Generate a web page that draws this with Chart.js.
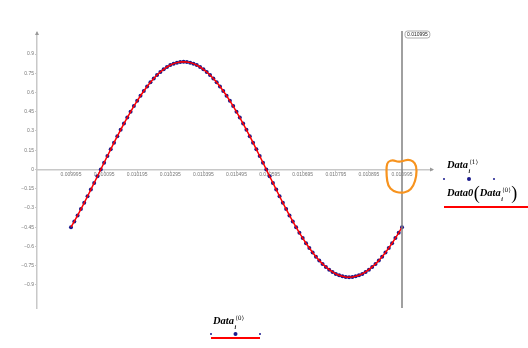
<!DOCTYPE html>
<html>
<head>
<meta charset="utf-8">
<script src="https://cdn.jsdelivr.net/npm/chart.js@4/dist/chart.umd.min.js"></script>
<style>
html,body{margin:0;padding:0;background:#fff;}
#wrap{position:relative;width:528px;height:348px;}
canvas{display:block;}
</style>
</head>
<body>
<div id="wrap"><canvas id="c" width="528" height="348"></canvas></div>
<script>
// Data0 sample points: x = Data<0>, y = Data<1>
const dataX = [
0.009995,0.010005,0.010015,0.010025,0.010035,0.010045,0.010055,0.010065,0.010075,0.010085,
0.010095,0.010105,0.010115,0.010125,0.010135,0.010145,0.010155,0.010165,0.010175,0.010185,
0.010195,0.010205,0.010215,0.010225,0.010235,0.010245,0.010255,0.010265,0.010275,0.010285,
0.010295,0.010305,0.010315,0.010325,0.010335,0.010345,0.010355,0.010365,0.010375,0.010385,
0.010395,0.010405,0.010415,0.010425,0.010435,0.010445,0.010455,0.010465,0.010475,0.010485,
0.010495,0.010505,0.010515,0.010525,0.010535,0.010545,0.010555,0.010565,0.010575,0.010585,
0.010595,0.010605,0.010615,0.010625,0.010635,0.010645,0.010655,0.010665,0.010675,0.010685,
0.010695,0.010705,0.010715,0.010725,0.010735,0.010745,0.010755,0.010765,0.010775,0.010785,
0.010795,0.010805,0.010815,0.010825,0.010835,0.010845,0.010855,0.010865,0.010875,0.010885,
0.010895,0.010905,0.010915,0.010925,0.010935,0.010945,0.010955,0.010965,0.010975,0.010985,
0.010995
];
const dataY = [
-0.450,-0.405,-0.358,-0.309,-0.260,-0.209,-0.157,-0.105,-0.053,0,
0.053,0.105,0.157,0.209,0.260,0.309,0.358,0.405,0.450,0.494,
0.535,0.575,0.612,0.647,0.680,0.709,0.736,0.760,0.781,0.799,
0.814,0.825,0.833,0.838,0.840,0.838,0.833,0.825,0.814,0.799,
0.781,0.760,0.736,0.709,0.680,0.647,0.612,0.575,0.535,0.494,
0.450,0.405,0.358,0.309,0.260,0.209,0.157,0.105,0.053,0,
-0.053,-0.105,-0.157,-0.209,-0.260,-0.309,-0.358,-0.405,-0.450,-0.494,
-0.535,-0.575,-0.612,-0.647,-0.680,-0.709,-0.736,-0.760,-0.781,-0.799,
-0.814,-0.825,-0.833,-0.838,-0.840,-0.838,-0.833,-0.825,-0.814,-0.799,
-0.781,-0.760,-0.736,-0.709,-0.680,-0.647,-0.612,-0.575,-0.535,-0.494,
-0.450
];
const xTicks = [0.009995,0.010095,0.010195,0.010295,0.010395,0.010495,0.010595,0.010695,0.010795,0.010895,0.010995];
const yTicks = [-0.9,-0.75,-0.6,-0.45,-0.3,-0.15,0,0.15,0.3,0.45,0.6,0.75,0.9];
const markerX = 0.010995;
const markerLabel = "0.010995";

const points = dataX.map((x, i) => ({x: x, y: dataY[i]}));
const AXIS = '#c8c8c8';
const BLUE = '#1a1a8c';
const RED = '#ff0000';

function fmtY(v){ if (Math.abs(v) < 1e-12) return '0'; const s = (+v.toFixed(2)).toString(); return v < 0 ? '\u2212' + s.slice(1) : s; }

const deco = {
  id: 'deco',
  afterDraw(chart) {
    const ctx = chart.ctx, xs = chart.scales.x, ys = chart.scales.y, ca = chart.chartArea;
    const y0 = ys.getPixelForValue(0);
    ctx.save();
    // axis arrows
    ctx.fillStyle = '#999';
    ctx.beginPath(); ctx.moveTo(ca.left, ca.top - 2); ctx.lineTo(ca.left - 2, ca.top + 2); ctx.lineTo(ca.left + 2, ca.top + 2); ctx.closePath(); ctx.fill();
    ctx.beginPath(); ctx.moveTo(ca.right + 2, y0); ctx.lineTo(ca.right - 2, y0 - 2); ctx.lineTo(ca.right - 2, y0 + 2); ctx.closePath(); ctx.fill();
    // marker line
    const mx = Math.round(xs.getPixelForValue(markerX));
    ctx.strokeStyle = '#808080'; ctx.lineWidth = 1.5;
    ctx.beginPath(); ctx.moveTo(mx, ca.top - 2); ctx.lineTo(mx, ca.bottom); ctx.stroke();
    // marker label box
    ctx.font = '5px "Liberation Sans", Arial, sans-serif';
    const tw = ctx.measureText(markerLabel).width;
    const bx = mx + 3, by = ca.top - 2, bw = tw + 4, bh = 7;
    ctx.fillStyle = '#fff'; ctx.strokeStyle = '#999'; ctx.lineWidth = 0.8;
    ctx.beginPath(); ctx.roundRect(bx, by, bw, bh, 2.5); ctx.fill(); ctx.stroke();
    ctx.fillStyle = '#222'; ctx.textAlign = 'left'; ctx.textBaseline = 'middle';
    ctx.fillText(markerLabel, bx + 2, by + bh / 2 + 0.5);
    // orange hand-drawn annotation around marker at y=0
    const o = [[-14,-8],[-9,-9.5],[-4,-7.5],[1,-8.5],[6,-10],[11,-8.5],[14.5,-3.5],[14.5,6.5],[11.5,16.5],[6,22.5],[-2,23.5],[-9,21.5],[-14,16.5],[-15.5,6.5],[-15.5,-3.5]];
    ctx.strokeStyle = '#f7931e'; ctx.lineWidth = 2.2; ctx.lineJoin = 'round'; ctx.lineCap = 'round';
    ctx.beginPath();
    const P = o.map(p => [mx + p[0], y0 + p[1]]);
    const n = P.length;
    const mid = (a, b) => [(a[0] + b[0]) / 2, (a[1] + b[1]) / 2];
    let m0 = mid(P[n - 1], P[0]);
    ctx.moveTo(m0[0], m0[1]);
    for (let i = 0; i < n; i++) { const m = mid(P[i], P[(i + 1) % n]); ctx.quadraticCurveTo(P[i][0], P[i][1], m[0], m[1]); }
    ctx.closePath(); ctx.stroke();

    // legends
    const serif = '"Liberation Serif", "Times New Roman", serif';
    const small = '6px "DejaVu Serif", "Liberation Serif", serif';
    ctx.textBaseline = 'alphabetic'; ctx.fillStyle = '#000'; ctx.textAlign = 'left';
    function dots(x1, x2, y) {
      ctx.fillStyle = BLUE;
      [[x1, 1], [(x1 + x2) / 2, 2], [x2, 1]].forEach(d => { ctx.beginPath(); ctx.arc(d[0], y, d[1], 0, Math.PI * 2); ctx.fill(); });
      ctx.fillStyle = '#000';
    }
    function redLine(x1, x2, y) { ctx.strokeStyle = RED; ctx.lineWidth = 2; ctx.lineCap = 'butt'; ctx.beginPath(); ctx.moveTo(x1, y); ctx.lineTo(x2, y); ctx.stroke(); }
    function dataSym(x, y, sup) {
      ctx.font = 'italic bold 10.5px ' + serif; ctx.fillText('Data', x, y);
      const w = ctx.measureText('Data').width;
      ctx.font = 'italic bold 6px ' + serif; ctx.fillText('i', x + w + 0.5, y + 5);
      ctx.font = small; ctx.fillText(sup, x + w + 1.5, y - 4);
      return x + w + 1.5 + ctx.measureText(sup).width;
    }
    // right legend
    dataSym(447, 168, '\u27E81\u27E9');
    dots(444, 494, 179);
    ctx.font = 'italic bold 10.5px ' + serif; ctx.fillText('Data0', 447, 196);
    let ex = 447 + ctx.measureText('Data0').width;
    ctx.font = '18px ' + serif; ctx.fillText('(', ex + 0.5, 199);
    const pw = ctx.measureText('(').width;
    const end = dataSym(ex + pw + 0.5, 196, '\u27E80\u27E9');
    ctx.font = '18px ' + serif; ctx.fillText(')', end + 0.5, 199);
    redLine(444, 528, 207);
    // bottom legend (x axis title)
    dataSym(213, 324, '\u27E80\u27E9');
    redLine(211, 260, 338);
    dots(211, 260, 334);
    ctx.restore();
  }
};

new Chart(document.getElementById('c'), {
  type: 'scatter',
  data: {
    datasets: [
      { label: 'Data0', data: points, showLine: true, borderColor: RED, borderWidth: 1.5, pointRadius: 0, fill: false, tension: 0 },
      { label: 'Data<1>', data: points, showLine: false, pointRadius: 2, pointBackgroundColor: BLUE, pointBorderColor: BLUE, pointBorderWidth: 0 }
    ]
  },
  options: {
    responsive: false,
    animation: false,
    devicePixelRatio: 1,
    layout: { padding: { left: 0, top: 33, right: 96, bottom: 40 } },
    plugins: { legend: { display: false }, tooltip: { enabled: false } },
    scales: {
      x: {
        type: 'linear', min: 0.0098923, max: 0.0110856,
        position: { y: 0 },
        afterFit: s => { s.height = 0; },
        afterBuildTicks: s => { s.ticks = xTicks.map(v => ({ value: v })); },
        grid: { display: true, drawOnChartArea: false, drawTicks: true, tickLength: 2, color: AXIS, lineWidth: 1 },
        border: { display: true, color: AXIS, width: 1.5 },
        ticks: { autoSkip: false, maxRotation: 0, padding: 0, color: '#777', font: { size: 5, family: '"Liberation Sans", Arial, sans-serif' }, callback: v => (+v).toFixed(6) }
      },
      y: {
        type: 'linear', min: -1.08, max: 1.064,
        position: 'left',
        afterFit: s => { s.width = 37; },
        afterBuildTicks: s => { s.ticks = yTicks.map(v => ({ value: v })); },
        grid: { display: true, drawOnChartArea: false, drawTicks: true, tickLength: 2, color: AXIS, lineWidth: 1 },
        border: { display: true, color: AXIS, width: 1.5 },
        ticks: { padding: 1, color: '#777', font: { size: 5, family: '"Liberation Sans", Arial, sans-serif' }, callback: v => fmtY(v) }
      }
    }
  },
  plugins: [deco]
});
</script>
</body>
</html>
